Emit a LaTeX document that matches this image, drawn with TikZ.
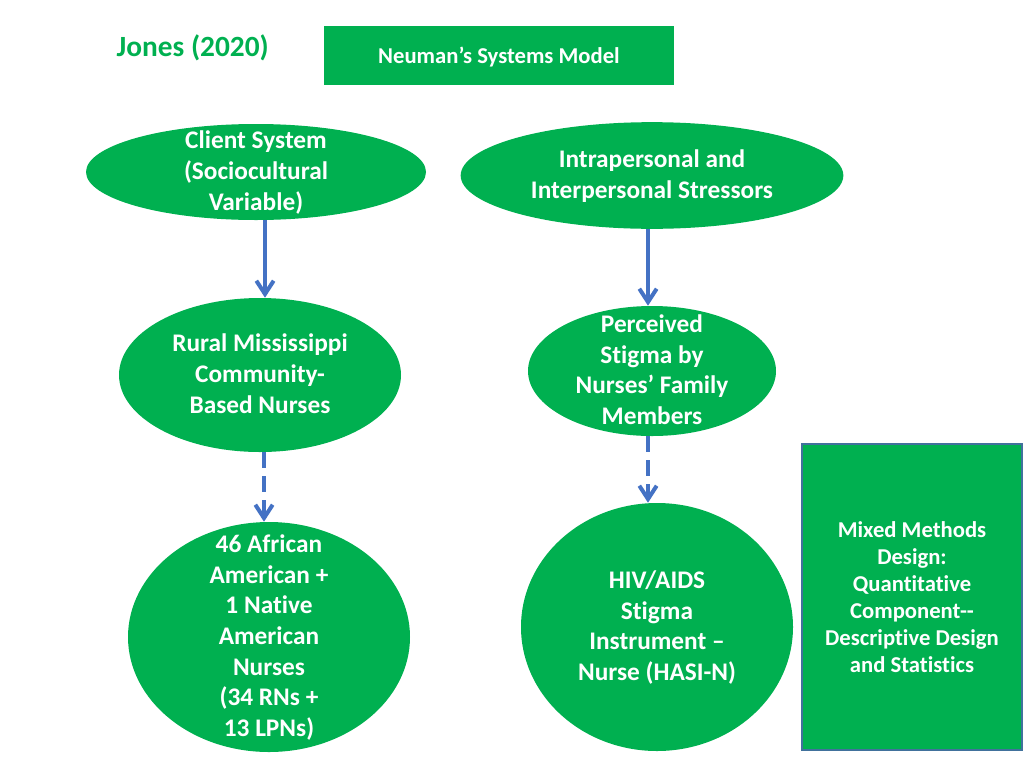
\documentclass[tikz,border=0pt]{standalone}
\usepackage{fontspec}
\setmainfont{Carlito}[Ligatures=NoCommon]
\usepackage{tikz}
\usetikzlibrary{arrows.meta,shapes.geometric}
\definecolor{ofgreen}{HTML}{00B050}
\definecolor{ofblue}{HTML}{4472C4}
\definecolor{ofedge}{HTML}{41719C}
\newcommand{\ovaltext}[1]{\makebox[0pt]{\raisebox{-0.55em}{\smash{\begin{tabular}{@{}c@{}}#1\end{tabular}}}}}
\tikzstyle{oval} = [ellipse, fill=ofgreen, text=white, inner sep=0pt, font=\bfseries\fontsize{19}{23}\selectfont]
\tikzstyle{flow} = [ofblue, line width=3pt, -{Straight Barb[length=10pt,width=13pt]}]
\tikzstyle{flowdash} = [flow, dash pattern=on 12pt off 6pt]

\begin{document}
\begin{tikzpicture}[x=0.75pt,y=-0.75pt]
      \useasboundingbox   (0,0) rectangle (1024,768);
      \node[right,text=ofgreen,font=\bfseries\fontsize{22}{26}\selectfont] (author) at (112,47.5) {Jones (2020)};
      \node[fill=ofgreen,text=white,minimum width=262.5pt,minimum height=44.25pt,text depth=0pt,font=\bfseries\fontsize{17}{20}\selectfont] (model) at (499,55.5) {Neuman’s Systems Model};
      \node[oval,minimum width=255pt,minimum height=72pt]   (client)  at (256,172) {\ovaltext{Client System\\(Sociocultural\\Variable)}};
      \node[oval,minimum width=287pt,minimum height=80pt]   (stress)  at (652,175.5) {\ovaltext{Intrapersonal and\\Interpersonal Stressors}};
      \node[oval,minimum width=211.5pt,minimum height=115.5pt] (rural) at (260,375) {\ovaltext{Rural Mississippi\\Community-\\Based Nurses}};
      \node[oval,minimum width=186pt,minimum height=97.5pt] (stigma)  at (652,371) {\ovaltext{Perceived\\Stigma by\\Nurses’ Family\\Members}};
      \node[oval,minimum width=211.5pt,minimum height=172.5pt] (sample) at (269,637) {\ovaltext{46 African\\American +\\1 Native\\American\\Nurses\\(34 RNs +\\13 LPNs)}};
      \node[oval,minimum width=204pt,minimum height=186pt]  (hasi)    at (657,627) {\ovaltext{HIV/AIDS\\Stigma\\Instrument –\\Nurse (HASI-N)}};
      \node[draw=ofedge,line width=1.5pt,fill=ofgreen,text=white,align=center,minimum width=165pt,minimum height=229.5pt,inner sep=0pt,font=\bfseries\fontsize{17}{20.25}\selectfont] (design) at (912,597) {Mixed Methods\\Design:\\Quantitative\\Component-{}-\\Descriptive Design\\and Statistics};
      \draw[flow]         ([xshift=6.75pt]client.south) -- ([xshift=3.75pt]rural.north);
      \draw[flow]         ([xshift=-3pt]stress.south)   -- ([xshift=-3pt]stigma.north);
      \draw[flowdash]     ([xshift=3pt]rural.south)     -- ([xshift=-3.75pt]sample.north);
      \draw[flowdash]     ([xshift=-3pt]stigma.south)   -- ([xshift=-6.75pt]hasi.north);
\end{tikzpicture}
\end{document}
